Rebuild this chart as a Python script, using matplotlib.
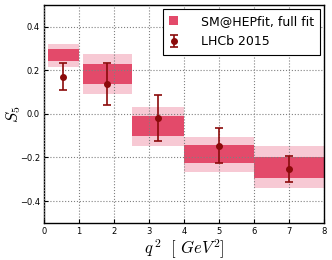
import numpy as np
import matplotlib
matplotlib.use("Agg")
import matplotlib.pyplot as plt
from matplotlib.patches import Rectangle

plt.rcParams['mathtext.fontset'] = 'cm'

# bins in q^2
bin_lo = [0.1, 1.1, 2.5, 4.0, 6.0]
bin_hi = [1.0, 2.5, 4.0, 6.0, 8.0]

# SM@HEPfit full fit: 1 sigma (dark) and 2 sigma (light) ranges
fit_1s_lo = [0.243, 0.135, -0.100, -0.224, -0.292]
fit_1s_hi = [0.297, 0.227, -0.012, -0.145, -0.198]
fit_2s_lo = [0.216, 0.090, -0.147, -0.265, -0.339]
fit_2s_hi = [0.323, 0.275, 0.033, -0.104, -0.147]

# LHCb 2015 measurements
lhcb_x = [0.54, 1.8, 3.25, 5.0, 7.0]
lhcb_y = [0.17, 0.137, -0.02, -0.147, -0.252]
lhcb_up = [0.062, 0.098, 0.106, 0.080, 0.060]
lhcb_dn = [0.062, 0.097, 0.104, 0.079, 0.061]

dark = '#e34a6a'
light = '#f7c9d4'
pt_col = '#8b0a0a'

fig = plt.figure(figsize=(3.32, 2.60), dpi=100)
ax = fig.add_axes([0.133, 0.143, 0.843, 0.838])

for lo, hi, a, b, c, d in zip(bin_lo, bin_hi, fit_2s_lo, fit_2s_hi, fit_1s_lo, fit_1s_hi):
    ax.add_patch(Rectangle((lo, a), hi - lo, b - a, facecolor=light, edgecolor='none', zorder=1))
    ax.add_patch(Rectangle((lo, c), hi - lo, d - c, facecolor=dark, edgecolor='none', zorder=1.5))

fit_handle = Rectangle((0, 0), 1, 1, facecolor=dark, edgecolor='none')
eb = ax.errorbar(lhcb_x, lhcb_y, yerr=[lhcb_dn, lhcb_up], fmt='o', color=pt_col,
                 ms=4, capsize=3, elinewidth=1.2, capthick=1.2, zorder=4)

ax.set_xlim(0, 8)
ax.set_ylim(-0.5, 0.5)
ax.set_xticks(range(0, 9))
ax.set_yticks([-0.4, -0.2, 0.0, 0.2, 0.4])
ax.set_yticklabels(['\u22120.4', '\u22120.2', '0.0', '0.2', '0.4'])
ax.tick_params(labelsize=6, direction='in', length=3, pad=3)
ax.set_axisbelow(False)
ax.grid(True, linestyle=':', color='gray', linewidth=0.8)
for gl in ax.get_xgridlines() + ax.get_ygridlines():
    gl.set_zorder(2)
for s in ax.spines.values():
    s.set_linewidth(1.0)

ax.set_xlabel(r'$q^{\,2}\ \ [\ GeV^2]$', fontsize=12, labelpad=1)
ax.set_ylabel(r'$S_5$', fontsize=12)
ax.yaxis.set_label_coords(-0.075, 0.5)

leg = ax.legend([fit_handle, eb], ['SM@HEPfit, full fit', 'LHCb 2015'],
                loc='upper right', fontsize=9, fancybox=False, framealpha=1,
                edgecolor='black', borderaxespad=0.3, handlelength=0.75,
                handletextpad=1.8, labelspacing=0.6, borderpad=0.5)
leg.get_frame().set_linewidth(0.8)
leg.set_zorder(5)

fig.savefig('out.png', dpi=100)
